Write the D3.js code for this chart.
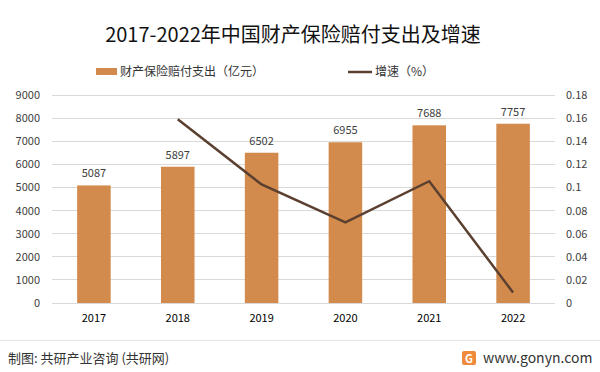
<!DOCTYPE html>
<html><head><meta charset="utf-8">
<script src="https://cdn.jsdelivr.net/npm/d3@7"></script>
<style>body{margin:0;background:#fff}svg{display:block}</style>
</head><body><svg id="c" width="600" height="372"></svg>
<script>
const years = ["2017","2018","2019","2020","2021","2022"];
const payout = [5087,5897,6502,6955,7688,7757];
const growth = [null,0.159,0.1026,0.0697,0.1054,0.009];
const leftTicks = [0,1000,2000,3000,4000,5000,6000,7000,8000,9000];
const rightTicks = [0,0.02,0.04,0.06,0.08,0.1,0.12,0.14,0.16,0.18];
const title = "2017-2022年中国财产保险赔付支出及增速";
const barName = "财产保险赔付支出（亿元）";
const lineName = "增速（%）";

const svg = d3.select("#c");
const F = "'Noto Sans CJK SC','Noto Sans',sans-serif";
const m = {l:52, r:555, t:95, b:303};
const x = d3.scaleBand().domain(years).range([m.l,m.r]).paddingInner(0.6).paddingOuter(0.3);
const y = d3.scaleLinear().domain([0,9000]).range([m.b,m.t]);
const y2 = d3.scaleLinear().domain([0,0.18]).range([m.b,m.t]);

// grid
svg.append("g").selectAll("line").data(leftTicks).join("line")
  .attr("x1",m.l).attr("x2",m.r).attr("y1",d=>y(d)).attr("y2",d=>y(d))
  .attr("stroke","#d9d9d9").attr("stroke-width",1).attr("shape-rendering","crispEdges");

// left axis
const la = svg.append("g").attr("transform",`translate(${m.l},0)`)
  .call(d3.axisLeft(y).tickValues(leftTicks).tickSize(0).tickPadding(12).tickFormat(d3.format("d")));
la.select(".domain").remove();
la.selectAll("text").attr("font-family",F).attr("font-size",11).attr("fill","#404040");

// right axis
const ra = svg.append("g").attr("transform",`translate(${m.r},0)`)
  .call(d3.axisRight(y2).tickValues(rightTicks).tickSize(0).tickPadding(11).tickFormat(d=>String(+d.toFixed(2))));
ra.select(".domain").remove();
ra.selectAll("text").attr("font-family",F).attr("font-size",11).attr("fill","#404040");

// x axis
const xa = svg.append("g").attr("transform",`translate(0,${m.b})`)
  .call(d3.axisBottom(x).tickSize(0).tickPadding(11));
xa.select(".domain").remove();
xa.selectAll("text").attr("font-family",F).attr("font-size",11).attr("fill","#000");

// bars
svg.append("g").selectAll("rect").data(years).join("rect")
  .attr("x",d=>x(d)).attr("width",x.bandwidth())
  .attr("y",(d,i)=>y(payout[i])).attr("height",(d,i)=>y(0)-y(payout[i]))
  .attr("fill","#d38b4d");

svg.append("g").selectAll("text").data(years).join("text")
  .attr("x",d=>x(d)+x.bandwidth()/2).attr("y",(d,i)=>y(payout[i])-8)
  .attr("text-anchor","middle").attr("font-family",F).attr("font-size",11).attr("fill","#404040")
  .text((d,i)=>payout[i]);

// line
const pts = years.map((d,i)=>[d,growth[i]]).filter(p=>p[1]!=null);
svg.append("path").datum(pts)
  .attr("d",d3.line().x(p=>x(p[0])+x.bandwidth()/2).y(p=>y2(p[1])))
  .attr("fill","none").attr("stroke","#5b4030").attr("stroke-width",2.5);

// title
svg.append("text").attr("x",293).attr("y",42).attr("text-anchor","middle")
  .attr("font-family",F).attr("font-size",20).attr("fill","#111").text(title);

// legend
svg.append("rect").attr("x",96).attr("y",68).attr("width",21).attr("height",7).attr("fill","#d38b4d");
svg.append("text").attr("x",120).attr("y",76).attr("font-family",F).attr("font-size",12).attr("fill","#333").text(barName);
svg.append("line").attr("x1",348).attr("x2",372).attr("y1",72).attr("y2",72).attr("stroke","#5b4030").attr("stroke-width",2.5);
svg.append("text").attr("x",375).attr("y",76).attr("font-family",F).attr("font-size",12).attr("fill","#333").text(lineName);

// footer
svg.append("line").attr("x1",0).attr("x2",600).attr("y1",340.5).attr("y2",340.5).attr("stroke","#e6e6e6");
svg.append("text").attr("x",8).attr("y",363).attr("font-family",F).attr("font-size",13).attr("fill","#333").text("制图: 共研产业咨询 (共研网)");
svg.append("rect").attr("x",462).attr("y",351).attr("width",14).attr("height",14).attr("rx",2).attr("fill","#f08a3c");
svg.append("text").attr("x",469).attr("y",362.5).attr("text-anchor","middle").attr("font-family",F).attr("font-size",11).attr("font-weight","bold").attr("fill","#fff").text("G");
svg.append("text").attr("x",483).attr("y",363).attr("font-family",F).attr("font-size",14).attr("fill","#333").text("www.gonyn.com");
</script></body></html>
